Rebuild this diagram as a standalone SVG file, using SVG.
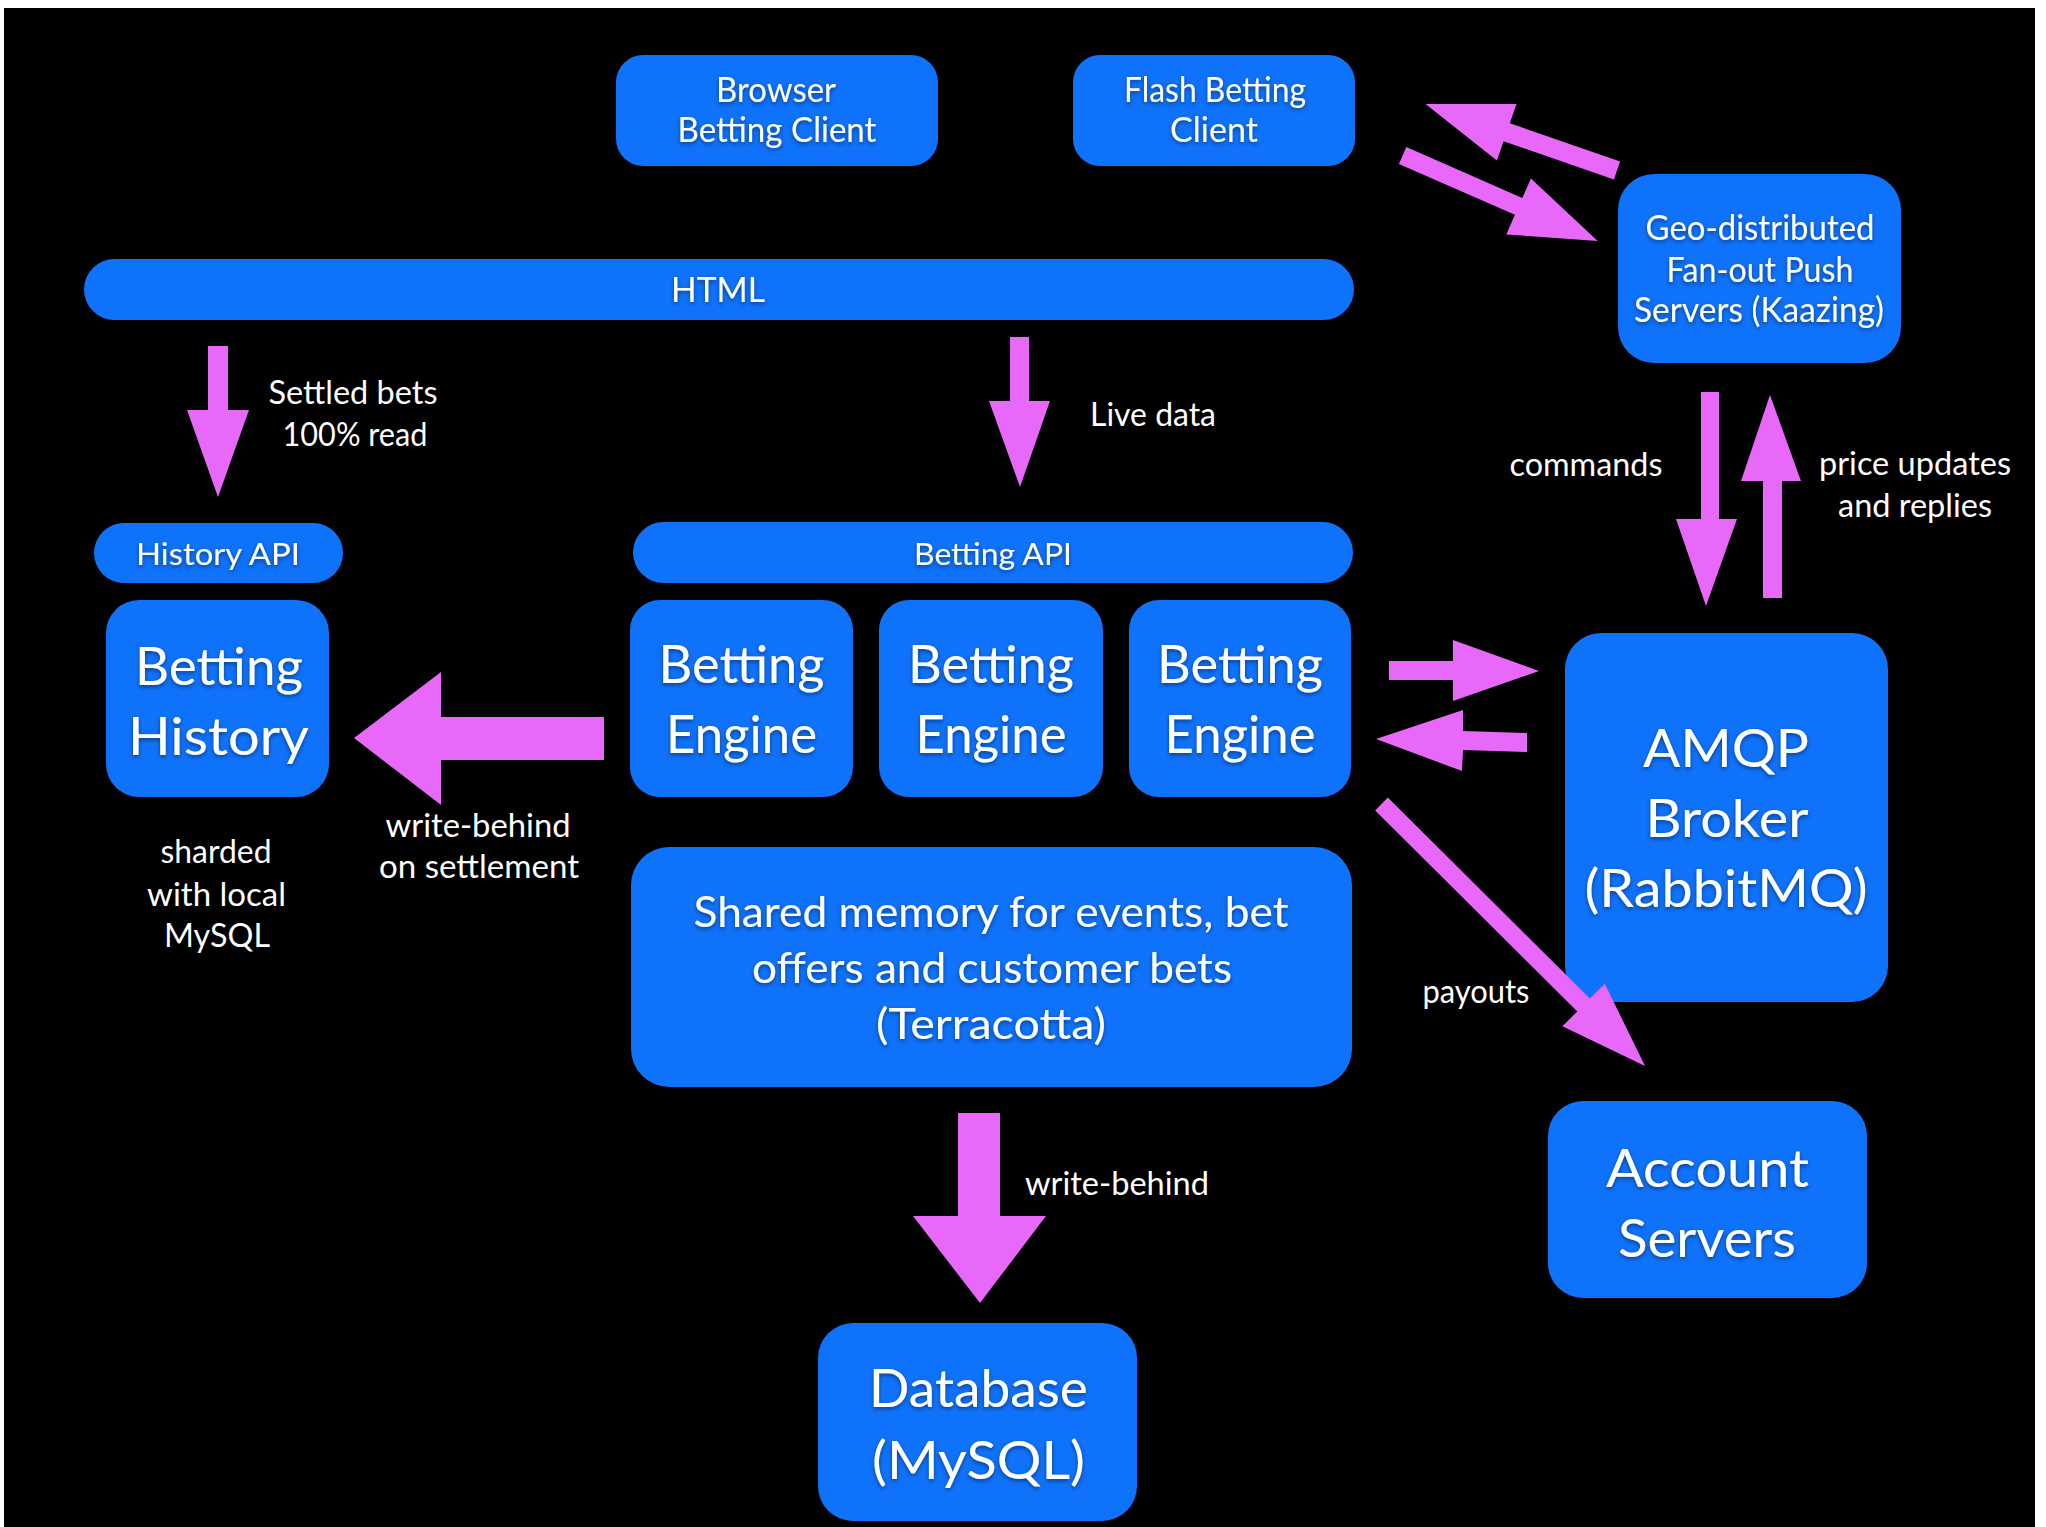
<svg xmlns="http://www.w3.org/2000/svg" width="2046" height="1527" viewBox="0 0 2046 1527">
<defs>
<style>
.box{fill:#0F72FB}
.arr{fill:#E868FA}
text{font-family:Lato,"Open Sans",sans-serif;fill:#ffffff;text-anchor:middle}
.nt{filter:url(#sh)}
.s31{font-size:31px}.s32{font-size:32px}.s34{font-size:34px}.s35{font-size:35px}.s42{font-size:42px}.s53{font-size:53px}
</style>
<filter id="sh" x="-10%" y="-30%" width="120%" height="160%">
<feDropShadow dx="0" dy="2" stdDeviation="2" flood-color="#000" flood-opacity="0.45"/>
</filter>
</defs>
<rect x="0" y="0" width="2046" height="1527" fill="#ffffff"/>
<rect x="4" y="8" width="2031" height="1519" fill="#000000"/>

<g id="browser-client">
<rect class="box" x="616" y="55" width="322" height="111" rx="27"/>
<text class="nt s35" x="776" y="102" textLength="120" lengthAdjust="spacingAndGlyphs">Browser</text>
<text class="nt s35" x="777" y="142" textLength="199" lengthAdjust="spacingAndGlyphs">Betting Client</text>
</g>
<g id="flash-client">
<rect class="box" x="1073" y="55" width="282" height="111" rx="27"/>
<text class="nt s35" x="1215" y="102" textLength="182" lengthAdjust="spacingAndGlyphs">Flash Betting</text>
<text class="nt s35" x="1214" y="142" textLength="88" lengthAdjust="spacingAndGlyphs">Client</text>
</g>
<g id="html">
<rect class="box" x="84" y="259" width="1270" height="61" rx="30.5"/>
<text class="nt s35" x="718" y="302" textLength="94" lengthAdjust="spacingAndGlyphs">HTML</text>
</g>
<g id="push-servers">
<rect class="box" x="1618" y="174" width="283" height="189" rx="36"/>
<text class="nt s34" x="1760" y="240" textLength="229" lengthAdjust="spacingAndGlyphs">Geo-distributed</text>
<text class="nt s34" x="1760" y="282" textLength="187" lengthAdjust="spacingAndGlyphs">Fan-out Push</text>
<text class="nt s34" x="1759" y="322" textLength="250" lengthAdjust="spacingAndGlyphs">Servers (Kaazing)</text>
</g>
<g id="history-api">
<rect class="box" x="94" y="523" width="249" height="60" rx="30"/>
<text class="nt s31" x="218" y="565" textLength="164" lengthAdjust="spacingAndGlyphs">History API</text>
</g>
<g id="betting-history">
<rect class="box" x="106" y="600" width="223" height="197" rx="33"/>
<text class="nt s53" x="219" y="685" textLength="168" lengthAdjust="spacingAndGlyphs">Betting</text>
<text class="nt s53" x="218.5" y="755" textLength="181" lengthAdjust="spacingAndGlyphs">History</text>
</g>
<g id="betting-api">
<rect class="box" x="633" y="522" width="720" height="61" rx="30.5"/>
<text class="nt s31" x="993" y="565" textLength="158" lengthAdjust="spacingAndGlyphs">Betting API</text>
</g>
<g id="engine-1">
<rect class="box" x="630" y="600" width="223" height="197" rx="30"/>
<text class="nt s53" x="741.5" y="683" textLength="166" lengthAdjust="spacingAndGlyphs">Betting</text>
<text class="nt s53" x="741.5" y="753" textLength="151" lengthAdjust="spacingAndGlyphs">Engine</text>
</g>
<g id="engine-2">
<rect class="box" x="879" y="600" width="224" height="197" rx="30"/>
<text class="nt s53" x="991" y="683" textLength="166" lengthAdjust="spacingAndGlyphs">Betting</text>
<text class="nt s53" x="991" y="753" textLength="151" lengthAdjust="spacingAndGlyphs">Engine</text>
</g>
<g id="engine-3">
<rect class="box" x="1129" y="600" width="222" height="197" rx="30"/>
<text class="nt s53" x="1240" y="683" textLength="166" lengthAdjust="spacingAndGlyphs">Betting</text>
<text class="nt s53" x="1240" y="753" textLength="151" lengthAdjust="spacingAndGlyphs">Engine</text>
</g>
<g id="shared-memory">
<rect class="box" x="631" y="847" width="721" height="240" rx="38"/>
<text class="nt s42" x="991" y="927" textLength="595" lengthAdjust="spacingAndGlyphs">Shared memory for events, bet</text>
<text class="nt s42" x="992" y="983" textLength="480" lengthAdjust="spacingAndGlyphs">offers and customer bets</text>
<text class="nt s42" x="991" y="1039" textLength="230" lengthAdjust="spacingAndGlyphs">(Terracotta)</text>
</g>
<g id="database">
<rect class="box" x="818" y="1323" width="319" height="198" rx="35"/>
<text class="nt s53" x="978.5" y="1407" textLength="219" lengthAdjust="spacingAndGlyphs">Database</text>
<text class="nt s53" x="978.5" y="1479" textLength="213" lengthAdjust="spacingAndGlyphs">(MySQL)</text>
</g>
<g id="amqp-broker">
<rect class="box" x="1565" y="633" width="323" height="369" rx="36"/>
<text class="nt s53" x="1726" y="767" textLength="166" lengthAdjust="spacingAndGlyphs">AMQP</text>
<text class="nt s53" x="1727" y="837" textLength="163" lengthAdjust="spacingAndGlyphs">Broker</text>
<text class="nt s53" x="1726" y="907" textLength="283" lengthAdjust="spacingAndGlyphs">(RabbitMQ)</text>
</g>
<g id="account-servers">
<rect class="box" x="1548" y="1101" width="319" height="197" rx="35"/>
<text class="nt s53" x="1707.5" y="1187" textLength="203" lengthAdjust="spacingAndGlyphs">Account</text>
<text class="nt s53" x="1707" y="1257" textLength="178" lengthAdjust="spacingAndGlyphs">Servers</text>
</g>
<g id="notes">
<text class="s32" x="216" y="863" textLength="111" lengthAdjust="spacingAndGlyphs">sharded</text>
<text class="s32" x="216.5" y="906" textLength="139" lengthAdjust="spacingAndGlyphs">with local</text>
<text class="s32" x="217" y="947" textLength="106" lengthAdjust="spacingAndGlyphs">MySQL</text>
</g>

<g id="connectors">
<polygon class="arr" points="1425.5,104 1516.5,103.9 1509.8,123.2 1620.1,161.5 1613.9,179.5 1503.6,141.2 1496.9,160.5"/>
<polygon class="arr" points="1406.3,147.1 1522.3,198 1530.9,178.4 1597.7,241 1506.3,234.4 1514.9,214.8 1398.9,163.9"/>
<polygon class="arr" points="208,346 228,346 228,410 249,410 218,497 187,410 208,410"/>
<polygon class="arr" points="1010,337 1029,337 1029,401 1050,401 1020,487 989,401 1010,401"/>
<polygon class="arr" points="604,717 441,717 441,672 354,738 441,805 441,760 604,760"/>
<polygon class="arr" points="1389,661 1453,661 1453,640 1539,671 1453,701 1453,680 1389,680"/>
<polygon class="arr" points="1527,733 1463,731 1463,710 1376,739 1462,771 1463,750 1527,752"/>
<polygon class="arr" points="1387.8,797.6 1589.9,998.6 1604.8,983.7 1645,1066 1562.4,1026.3 1577.3,1011.4 1375.2,810.4"/>
<polygon class="arr" points="1701,392 1719,392 1719,519 1737,519 1706,606 1676,519 1701,519"/>
<polygon class="arr" points="1763,598 1782,598 1782,481 1801,481 1770,395 1741,481 1763,481"/>
<polygon class="arr" points="958,1113 1000,1113 1000,1216 1046,1216 980,1303 913,1216 958,1216"/>
<text class="s32" x="353" y="404" textLength="169" lengthAdjust="spacingAndGlyphs">Settled bets</text>
<text class="s32" x="355" y="446" textLength="145" lengthAdjust="spacingAndGlyphs">100% read</text>
<text class="s32" x="1153" y="426" textLength="126" lengthAdjust="spacingAndGlyphs">Live data</text>
<text class="s32" x="478" y="837" textLength="185" lengthAdjust="spacingAndGlyphs">write-behind</text>
<text class="s32" x="479" y="878" textLength="200" lengthAdjust="spacingAndGlyphs">on settlement</text>
<text class="s32" x="1117" y="1195" textLength="184" lengthAdjust="spacingAndGlyphs">write-behind</text>
<text class="s32" x="1476" y="1003" textLength="107" lengthAdjust="spacingAndGlyphs">payouts</text>
<text class="s32" x="1586" y="476" textLength="153" lengthAdjust="spacingAndGlyphs">commands</text>
<text class="s32" x="1915" y="475" textLength="192" lengthAdjust="spacingAndGlyphs">price updates</text>
<text class="s32" x="1915" y="517" textLength="154" lengthAdjust="spacingAndGlyphs">and replies</text>
</g>
</svg>
